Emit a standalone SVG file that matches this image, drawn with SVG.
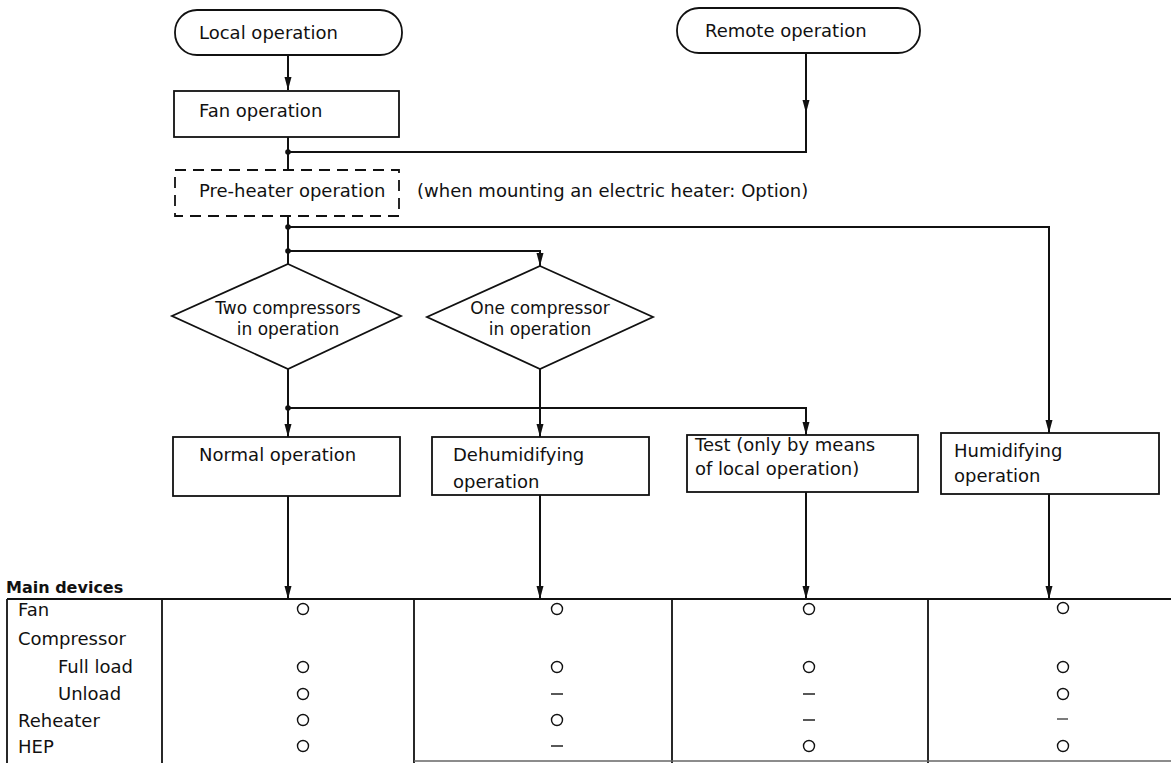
<svg xmlns="http://www.w3.org/2000/svg" width="1171" height="763" viewBox="0 0 1171 763">
<defs>
<style>
text{font-family:"DejaVu Sans","Liberation Sans",sans-serif;font-size:18px;fill:#111}
.b{fill:none;stroke:#111;stroke-width:1.8}
.d{fill:none;stroke:#111;stroke-width:1.8;stroke-dasharray:11 7}
.c{fill:none;stroke:#111;stroke-width:2}
.t{fill:none;stroke:#111;stroke-width:1.8}
.o{fill:none;stroke:#111;stroke-width:1.4}
.m{text-anchor:middle;font-size:17px}
</style>
<marker id="ah" markerUnits="userSpaceOnUse" markerWidth="14" markerHeight="8" refX="13" refY="4" orient="auto" viewBox="0 0 14 8">
<path d="M0,0.5 L13,4 L0,7.5 Z" fill="#111"/>
</marker>
</defs>
<rect width="1171" height="763" fill="#fff"/>

<g id="local-operation">
<rect class="b" x="175" y="10" width="227" height="45" rx="22" ry="22"/>
<text x="199" y="39">Local operation</text>
</g>
<g id="remote-operation">
<rect class="b" x="677" y="8" width="243" height="45" rx="22" ry="22"/>
<text x="705" y="37">Remote operation</text>
</g>
<g id="fan-operation">
<rect class="b" x="174" y="91" width="225" height="46"/>
<text x="199" y="117">Fan operation</text>
</g>
<g id="pre-heater-operation">
<rect class="d" x="175" y="170" width="224" height="46"/>
<text x="199" y="197">Pre-heater operation</text>
</g>
<g id="note">
<text x="417" y="197">(when mounting an electric heater: Option)</text>
</g>
<g id="two-compressors">
<polygon class="b" points="288,264 401,316 288,369 172,316"/>
<text class="m" x="288" y="314">Two compressors</text>
<text class="m" x="288" y="335">in operation</text>
</g>
<g id="one-compressor">
<polygon class="b" points="540,266 653,317 540,369 427,317"/>
<text class="m" x="540" y="314">One compressor</text>
<text class="m" x="540" y="335">in operation</text>
</g>
<g id="normal-operation">
<rect class="b" x="173" y="437" width="227" height="59"/>
<text x="199" y="461">Normal operation</text>
</g>
<g id="dehumidifying-operation">
<rect class="b" x="432" y="437" width="217" height="58"/>
<text x="453" y="461">Dehumidifying</text>
<text x="453" y="488">operation</text>
</g>
<g id="test-operation">
<rect class="b" x="687" y="435" width="231" height="57"/>
<text x="695" y="451">Test (only by means</text>
<text x="695" y="475">of local operation)</text>
</g>
<g id="humidifying-operation">
<rect class="b" x="941" y="433" width="218" height="61"/>
<text x="954" y="457">Humidifying</text>
<text x="954" y="482">operation</text>
</g>

<g id="connectors">
<line class="c" x1="288" y1="55" x2="288" y2="90" marker-end="url(#ah)"/>
<line class="c" x1="288" y1="137" x2="288" y2="170"/>
<line class="c" x1="806" y1="53" x2="806" y2="113" marker-end="url(#ah)"/>
<polyline class="c" points="806,110 806,152 288,152"/>
<line class="c" x1="288" y1="216" x2="288" y2="264"/>
<polyline class="c" points="288,227 1049,227 1049,433" marker-end="url(#ah)"/>
<polyline class="c" points="288,251 540,251 540,266" marker-end="url(#ah)"/>
<line class="c" x1="288" y1="369" x2="288" y2="437" marker-end="url(#ah)"/>
<line class="c" x1="540" y1="369" x2="540" y2="437" marker-end="url(#ah)"/>
<polyline class="c" points="288,408 806,408 806,435" marker-end="url(#ah)"/>
<line class="c" x1="288" y1="496" x2="288" y2="599" marker-end="url(#ah)"/>
<line class="c" x1="540" y1="495" x2="540" y2="599" marker-end="url(#ah)"/>
<line class="c" x1="806" y1="492" x2="806" y2="599" marker-end="url(#ah)"/>
<line class="c" x1="1049" y1="494" x2="1049" y2="599" marker-end="url(#ah)"/>
<circle cx="288" cy="152" r="2.8" fill="#111"/>
<circle cx="288" cy="227" r="2.8" fill="#111"/>
<circle cx="288" cy="251" r="2.8" fill="#111"/>
<circle cx="288" cy="408" r="2.8" fill="#111"/>
</g>

<g id="main-devices-table">
<text x="6" y="593" style="font-weight:bold;font-size:16px">Main devices</text>
<line class="t" x1="7" y1="599" x2="1171" y2="599"/>
<line class="t" x1="7" y1="599" x2="7" y2="763"/>
<line class="t" x1="162" y1="599" x2="162" y2="763"/>
<line class="t" x1="414" y1="599" x2="414" y2="763"/>
<line class="t" x1="672" y1="599" x2="672" y2="763"/>
<line class="t" x1="928" y1="599" x2="928" y2="763"/>
<line x1="414" y1="761" x2="1171" y2="761" stroke="#666" stroke-width="1.5"/>
<text x="18" y="616">Fan</text>
<text x="18" y="645">Compressor</text>
<text x="58" y="673">Full load</text>
<text x="58" y="700">Unload</text>
<text x="18" y="727">Reheater</text>
<text x="18" y="753">HEP</text>
<g id="col-normal">
<circle class="o" cx="303" cy="609" r="5.5"/>
<circle class="o" cx="303" cy="667" r="5.5"/>
<circle class="o" cx="303" cy="694" r="5.5"/>
<circle class="o" cx="303" cy="720" r="5.5"/>
<circle class="o" cx="303" cy="746" r="5.5"/>
</g>
<g id="col-dehumidifying">
<circle class="o" cx="557" cy="609" r="5.5"/>
<circle class="o" cx="557" cy="667" r="5.5"/>
<line class="o" x1="551" y1="694" x2="563" y2="694"/>
<circle class="o" cx="557" cy="720" r="5.5"/>
<line class="o" x1="551" y1="746" x2="563" y2="746"/>
</g>
<g id="col-test">
<circle class="o" cx="809" cy="609" r="5.5"/>
<circle class="o" cx="809" cy="667" r="5.5"/>
<line class="o" x1="803" y1="694" x2="815" y2="694"/>
<line class="o" x1="803" y1="720" x2="815" y2="720"/>
<circle class="o" cx="809" cy="746" r="5.5"/>
</g>
<g id="col-humidifying">
<circle class="o" cx="1063" cy="608" r="5.5"/>
<circle class="o" cx="1063" cy="667" r="5.5"/>
<circle class="o" cx="1063" cy="694" r="5.5"/>
<line x1="1057" y1="719" x2="1068" y2="719" stroke="#111" stroke-width="1.1"/>
<circle class="o" cx="1063" cy="746" r="5.5"/>
</g>
</g>
</svg>
